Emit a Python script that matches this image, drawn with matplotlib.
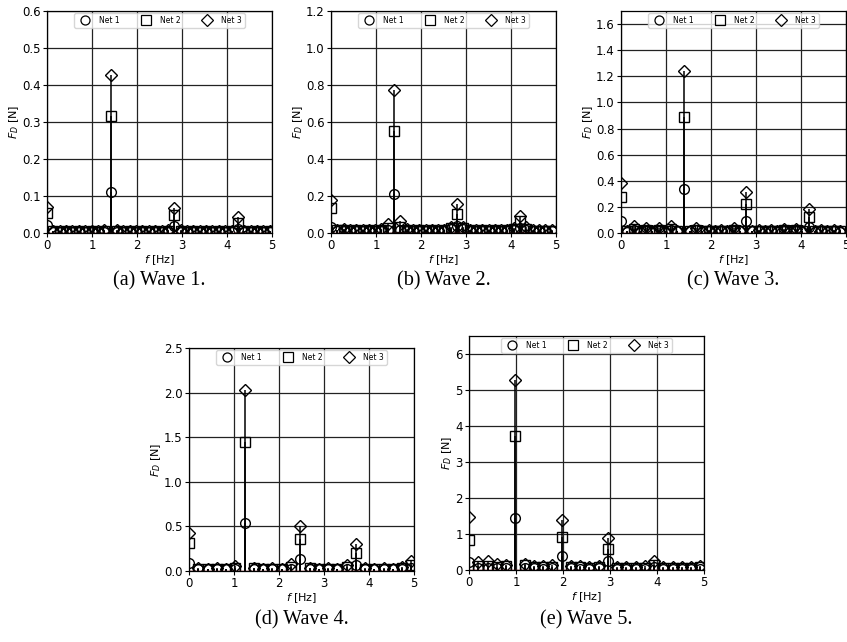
import numpy as np
import matplotlib.pyplot as plt
from matplotlib.lines import Line2D

# bin width of each spectrum (Hz) and amplitudes per net [N]
WAVE1_DF = 0.1414
WAVE1_NET1 = [0.022, 0.004, 0.003, 0.003, 0.004, 0.003, 0.003, 0.004, 0.003, 0.004,
              0.110, 0.004, 0.003, 0.003, 0.004, 0.003, 0.003, 0.004, 0.003, 0.004,
              0.019, 0.004, 0.003, 0.003, 0.004, 0.003, 0.003, 0.004, 0.003, 0.004,
              0.010, 0.004, 0.003, 0.003, 0.004, 0.003]
WAVE1_NET2 = [0.055, 0.005, 0.004, 0.005, 0.004, 0.005, 0.004, 0.005, 0.004, 0.006,
              0.315, 0.006, 0.004, 0.005, 0.004, 0.005, 0.004, 0.005, 0.004, 0.006,
              0.050, 0.006, 0.004, 0.005, 0.004, 0.005, 0.004, 0.005, 0.004, 0.005,
              0.028, 0.005, 0.004, 0.005, 0.004, 0.005]
WAVE1_NET3 = [0.070, 0.006, 0.005, 0.006, 0.005, 0.006, 0.005, 0.006, 0.005, 0.007,
              0.428, 0.007, 0.005, 0.006, 0.005, 0.006, 0.005, 0.006, 0.005, 0.007,
              0.068, 0.007, 0.005, 0.006, 0.005, 0.006, 0.005, 0.006, 0.005, 0.006,
              0.042, 0.006, 0.005, 0.006, 0.005, 0.006]

WAVE2_DF = 0.140
WAVE2_NET1 = [0.035, 0.012, 0.012, 0.010, 0.012, 0.010, 0.012, 0.010, 0.012, 0.015,
              0.210, 0.015, 0.012, 0.010, 0.012, 0.010, 0.012, 0.010, 0.012, 0.020,
              0.040, 0.020, 0.012, 0.010, 0.012, 0.010, 0.012, 0.010, 0.012, 0.015,
              0.025, 0.015, 0.010, 0.010, 0.010, 0.010]
WAVE2_NET2 = [0.135, 0.014, 0.015, 0.012, 0.014, 0.012, 0.014, 0.012, 0.014, 0.025,
              0.550, 0.030, 0.014, 0.012, 0.014, 0.012, 0.014, 0.012, 0.014, 0.025,
              0.105, 0.025, 0.014, 0.012, 0.014, 0.012, 0.014, 0.012, 0.014, 0.020,
              0.065, 0.020, 0.012, 0.012, 0.012, 0.012]
WAVE2_NET3 = [0.180, 0.018, 0.020, 0.016, 0.018, 0.016, 0.018, 0.016, 0.020, 0.050,
              0.775, 0.065, 0.020, 0.016, 0.018, 0.016, 0.018, 0.016, 0.018, 0.030,
              0.155, 0.035, 0.018, 0.016, 0.018, 0.016, 0.018, 0.016, 0.018, 0.025,
              0.090, 0.030, 0.016, 0.014, 0.014, 0.014]

WAVE3_DF = 0.139
WAVE3_NET1 = [0.095, 0.010, 0.020, 0.010, 0.018, 0.010, 0.018, 0.010, 0.020, 0.012,
              0.340, 0.012, 0.020, 0.010, 0.015, 0.010, 0.015, 0.010, 0.018, 0.012,
              0.090, 0.012, 0.015, 0.010, 0.015, 0.010, 0.015, 0.010, 0.015, 0.010,
              0.045, 0.010, 0.015, 0.010, 0.015, 0.010]
WAVE3_NET2 = [0.275, 0.012, 0.030, 0.012, 0.025, 0.012, 0.025, 0.012, 0.030, 0.015,
              0.890, 0.015, 0.025, 0.012, 0.015, 0.012, 0.015, 0.012, 0.025, 0.015,
              0.225, 0.015, 0.018, 0.012, 0.018, 0.012, 0.020, 0.012, 0.020, 0.012,
              0.120, 0.012, 0.015, 0.012, 0.015, 0.012]
WAVE3_NET3 = [0.385, 0.012, 0.050, 0.012, 0.035, 0.012, 0.040, 0.012, 0.055, 0.015,
              1.240, 0.015, 0.035, 0.012, 0.020, 0.012, 0.020, 0.012, 0.040, 0.015,
              0.315, 0.015, 0.025, 0.012, 0.025, 0.012, 0.030, 0.012, 0.030, 0.012,
              0.180, 0.012, 0.020, 0.012, 0.020, 0.012]

WAVE4_DF = 0.206
WAVE4_NET1 = [0.090, 0.020, 0.018, 0.020, 0.018, 0.022, 0.540, 0.022, 0.018, 0.020,
              0.018, 0.025, 0.140, 0.025, 0.018, 0.020, 0.018, 0.022, 0.070, 0.022,
              0.018, 0.020, 0.018, 0.020, 0.030]
WAVE4_NET2 = [0.310, 0.025, 0.022, 0.025, 0.022, 0.035, 1.450, 0.030, 0.022, 0.025,
              0.022, 0.050, 0.360, 0.030, 0.022, 0.025, 0.022, 0.040, 0.200, 0.028,
              0.022, 0.025, 0.022, 0.030, 0.070]
WAVE4_NET3 = [0.430, 0.030, 0.028, 0.030, 0.028, 0.060, 2.030, 0.035, 0.028, 0.030,
              0.028, 0.080, 0.500, 0.035, 0.028, 0.030, 0.028, 0.070, 0.300, 0.032,
              0.028, 0.030, 0.028, 0.050, 0.110]

WAVE5_DF = 0.197
WAVE5_NET1 = [0.220, 0.050, 0.060, 0.050, 0.045, 1.450, 0.060, 0.045, 0.040, 0.045,
              0.400, 0.050, 0.040, 0.040, 0.045, 0.260, 0.040, 0.035, 0.035, 0.040,
              0.080, 0.035, 0.030, 0.030, 0.035, 0.040]
WAVE5_NET2 = [0.820, 0.100, 0.120, 0.090, 0.100, 3.720, 0.150, 0.080, 0.070, 0.090,
              0.920, 0.080, 0.070, 0.060, 0.080, 0.580, 0.060, 0.055, 0.050, 0.060,
              0.150, 0.055, 0.050, 0.050, 0.055, 0.070]
WAVE5_NET3 = [1.470, 0.220, 0.250, 0.180, 0.150, 5.280, 0.180, 0.120, 0.120, 0.150,
              1.400, 0.100, 0.100, 0.090, 0.120, 0.900, 0.080, 0.080, 0.070, 0.100,
              0.250, 0.080, 0.070, 0.070, 0.080, 0.100]

WAVES = [
    ("(a) Wave 1.", WAVE1_DF, (WAVE1_NET1, WAVE1_NET2, WAVE1_NET3), 0.6, np.arange(0, 0.61, 0.1), "%.1f"),
    ("(b) Wave 2.", WAVE2_DF, (WAVE2_NET1, WAVE2_NET2, WAVE2_NET3), 1.2, np.arange(0, 1.21, 0.2), "%.1f"),
    ("(c) Wave 3.", WAVE3_DF, (WAVE3_NET1, WAVE3_NET2, WAVE3_NET3), 1.7, np.arange(0, 1.61, 0.2), "%.1f"),
    ("(d) Wave 4.", WAVE4_DF, (WAVE4_NET1, WAVE4_NET2, WAVE4_NET3), 2.5, np.arange(0, 2.51, 0.5), "%.1f"),
    ("(e) Wave 5.", WAVE5_DF, (WAVE5_NET1, WAVE5_NET2, WAVE5_NET3), 6.5, np.arange(0, 6.1, 1.0), "%d"),
]

NET_LABELS = ["Net 1", "Net 2", "Net 3"]
NET_MARKERS = ["o", "s", "D"]

W, H = 847, 642
# axes boxes in pixels: left, right, top, bottom
BOXES = [(47, 272, 11, 233), (331, 556, 11, 233), (621, 846, 11, 233),
         (189, 414, 348, 571), (469, 704, 336, 570)]
CAPTION_Y = [281, 281, 281, 620, 620]

fig = plt.figure(figsize=(W / 100, H / 100), dpi=100)

for (caption, df, nets, ytop, yticks, fmt), (l, r, t, b), cy in zip(WAVES, BOXES, CAPTION_Y):
    ax = fig.add_axes([l / W, 1 - b / H, (r - l) / W, (b - t) / H])
    for vals, mk in zip(nets, NET_MARKERS):
        freq = np.arange(len(vals)) * df
        ms = 6.3 if mk == "D" else 7
        markerline, stemlines, baseline = ax.stem(freq, vals, linefmt="k-", markerfmt="k" + mk, basefmt="C3-")
        markerline.set_markerfacecolor("none")
        markerline.set_markersize(ms)
        markerline.set_markeredgewidth(1.0)
        stemlines.set_linewidth(1.1)
        baseline.set_linewidth(0.8)
    ax.set_xlim(0, 5)
    ax.set_ylim(0, ytop)
    ax.set_yticks(yticks)
    ax.set_yticklabels([fmt % v for v in yticks])
    ax.set_xticks(range(6))
    ax.grid(True, color="#222222", linewidth=0.9)
    ax.set_axisbelow(True)
    ax.tick_params(labelsize=8.5, length=3, pad=1.5)
    ax.set_xlabel("$f$ [Hz]", fontsize=8, labelpad=1)
    ax.set_ylabel("$F_D$ [N]", fontsize=8, labelpad=1)
    for s in ax.spines.values():
        s.set_linewidth(0.9)

    handles = [Line2D([], [], color="k", marker=mk, linestyle="none", markerfacecolor="none",
                      markersize=6.5, markeredgewidth=0.9) for mk in NET_MARKERS]
    ax.legend(handles, NET_LABELS, loc="upper center", ncol=3, fontsize=5.5,
              borderaxespad=0.3, handletextpad=0.9, columnspacing=2.4,
              framealpha=0.8, fancybox=True, borderpad=0.35)

    fig.text(((l + r) / 2) / W, 1 - cy / H, caption, ha="center", va="center",
             fontsize=14.5, family="Liberation Serif")

fig.savefig("out.png", dpi=100)
